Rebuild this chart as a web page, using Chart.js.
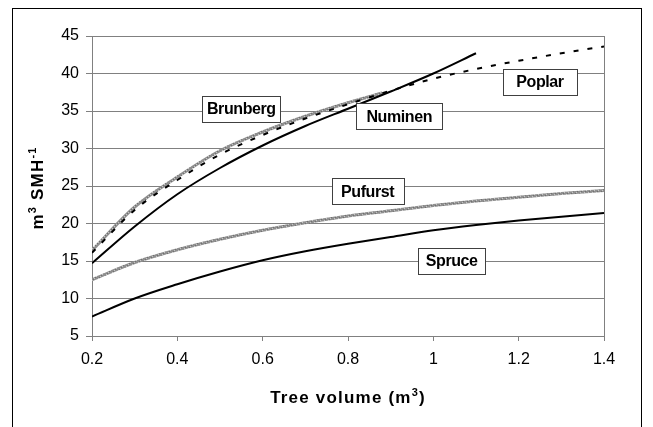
<!DOCTYPE html>
<html>
<head>
<meta charset="utf-8">
<script src="https://cdn.jsdelivr.net/npm/chart.js@4/dist/chart.umd.min.js"></script>
<style>
html,body{margin:0;padding:0;background:#fff;}
#wrap{position:relative;width:653px;height:427px;overflow:hidden;}
</style>
</head>
<body>
<div id="wrap"><canvas id="c" width="653" height="427"></canvas></div>
<script>
// ---- data ----
const xTicks = [0.2, 0.4, 0.6, 0.8, 1, 1.2, 1.4];
const xTickLabels = ['0.2', '0.4', '0.6', '0.8', '1', '1.2', '1.4'];
const yTicks = [5, 10, 15, 20, 25, 30, 35, 40, 45];
const yTickLabels = ['5', '10', '15', '20', '25', '30', '35', '40', '45'];

const volumes = [0.2, 0.3, 0.4, 0.5, 0.6, 0.7, 0.8, 0.9, 1.0, 1.1, 1.2, 1.3, 1.4];
const spruce  = [7.6, 10.0, 11.9, 13.6, 15.1, 16.3, 17.3, 18.2, 19.1, 19.8, 20.4, 20.9, 21.4];
const pufurst = [12.5, 14.8, 16.5, 17.9, 19.1, 20.1, 21.0, 21.7, 22.4, 23.0, 23.5, 24.0, 24.4];
const poplar  = [16.1, 21.8, 25.8, 29.2, 31.8, 34.0, 35.9, 37.7, 39.3, 40.6, 41.7, 42.7, 43.6];

const numinenVolumes = [0.2, 0.3, 0.4, 0.5, 0.6, 0.7, 0.8, 0.9, 1.0, 1.1];
const numinen        = [14.7, 19.6, 23.9, 27.4, 30.4, 33.0, 35.3, 37.6, 40.0, 42.7];

const brunbergVolumes = [0.2, 0.3, 0.4, 0.5, 0.6, 0.7, 0.8, 0.88];
const brunberg        = [16.4, 22.2, 26.2, 29.7, 32.2, 34.3, 36.1, 37.4];

const seriesNames = ['Numinen', 'Spruce', 'Poplar', 'Brunberg', 'Pufurst'];

// text
const xTitleParts = [['Tree volume (m', false], ['3', true], [')', false]];
const yTitleParts = [['m', false], ['3', true], [' SMH', false], ['-1', true]];

// series name boxes (anchored in data units)
const nameBoxes = [
  { text: 'Brunberg', x: 0.55,  y: 35.3, w: 78 },
  { text: 'Numinen',  x: 0.92,  y: 34.3, w: 86 },
  { text: 'Poplar',   x: 1.25,  y: 38.9, w: 74 },
  { text: 'Pufurst',  x: 0.846, y: 24.3, w: 72 },
  { text: 'Spruce',   x: 1.043, y: 15.0, w: 67 }
];

// ---- chart ----
const FONT = "'Liberation Sans', Arial, Helvetica, sans-serif";
Chart.defaults.font.family = FONT;
Chart.defaults.color = '#000';

const canvas = document.getElementById('c');
const ctx0 = canvas.getContext('2d');

function grayPattern() {
  const p = document.createElement('canvas');
  p.width = 4; p.height = 4;
  const g = p.getContext('2d');
  g.fillStyle = '#8f8f8f'; g.fillRect(0, 0, 4, 4);
  g.fillStyle = '#c6c6c6'; g.fillRect(0, 0, 1, 1); g.fillRect(2, 2, 1, 1);
  g.fillStyle = '#707070'; g.fillRect(1, 3, 1, 1); g.fillRect(3, 1, 1, 1);
  return ctx0.createPattern(p, 'repeat');
}
const grayLine = grayPattern();

function pts(xs, ys) { return xs.map((v, i) => ({ x: v, y: ys[i] })); }

function drawParts(c, parts, size, supSize, raise, spacing) {
  let total = 0;
  const widths = parts.map(([t, sup]) => {
    c.font = 'bold ' + (sup ? supSize : size) + 'px ' + FONT;
    c.letterSpacing = spacing + 'px';
    const w = c.measureText(t).width;
    total += w;
    return w;
  });
  let x = -total / 2;
  parts.forEach(([t, sup], i) => {
    c.font = 'bold ' + (sup ? supSize : size) + 'px ' + FONT;
    c.letterSpacing = spacing + 'px';
    c.fillText(t, x, sup ? -raise : 0);
    x += widths[i];
  });
}

const decor = {
  id: 'decor',
  beforeDraw(chart) {
    const c = chart.ctx;
    c.save();
    c.fillStyle = '#fff';
    c.fillRect(0, 0, chart.width, chart.height);
    c.restore();
  },
  afterDatasetsDraw(chart) {
    const c = chart.ctx;
    const xs = chart.scales.x, ys = chart.scales.y;
    c.save();
    c.font = 'bold 16px ' + FONT;
    c.letterSpacing = '-0.4px';
    c.textAlign = 'center';
    c.textBaseline = 'middle';
    nameBoxes.forEach(b => {
      const cx = xs.getPixelForValue(b.x);
      const cy = ys.getPixelForValue(b.y);
      const w = b.w;
      const h = 26;
      const left = Math.round(cx - w / 2) + 0.5;
      const top = Math.round(cy - h / 2) + 0.5;
      c.fillStyle = '#fff';
      c.fillRect(left, top, w, h);
      c.strokeStyle = '#404040';
      c.lineWidth = 1;
      c.strokeRect(left, top, w, h);
      c.fillStyle = '#000';
      c.fillText(b.text, cx, cy + 1);
    });
    c.restore();
  },
  afterDraw(chart) {
    const c = chart.ctx;
    c.save();
    c.strokeStyle = '#000';
    c.lineWidth = 1;
    c.strokeRect(12.5, 8.5, 629, 600);
    c.fillStyle = '#000';
    c.textAlign = 'left';
    c.textBaseline = 'alphabetic';
    c.save();
    c.translate(348, 403);
    drawParts(c, xTitleParts, 17, 11, 7, 1.2);
    c.restore();
    c.save();
    c.translate(43, 188);
    c.rotate(-Math.PI / 2);
    drawParts(c, yTitleParts, 17, 11, 7, 1.2);
    c.restore();
    c.restore();
  }
};

new Chart(canvas, {
  type: 'line',
  data: {
    datasets: [
      { label: seriesNames[0], data: pts(numinenVolumes, numinen), borderColor: '#000', borderWidth: 2 },
      { label: seriesNames[1], data: pts(volumes, spruce), borderColor: '#000', borderWidth: 2 },
      { label: seriesNames[2], data: pts(volumes, poplar), borderColor: '#000', borderWidth: 2, borderDash: [5, 9] },
      { label: seriesNames[3], data: pts(brunbergVolumes, brunberg), borderColor: grayLine, borderWidth: 3 },
      { label: seriesNames[4], data: pts(volumes, pufurst), borderColor: grayLine, borderWidth: 3 }
    ]
  },
  options: {
    responsive: false,
    animation: false,
    events: [],
    layout: { padding: { top: 36, right: 49, left: 0, bottom: 0 } },
    elements: {
      point: { radius: 0 },
      line: { tension: 0.4, cubicInterpolationMode: 'monotone', fill: false, borderCapStyle: 'butt' }
    },
    plugins: { legend: { display: false }, tooltip: { enabled: false }, title: { display: false } },
    scales: {
      x: {
        type: 'linear',
        min: 0.2, max: 1.4,
        afterBuildTicks: s => { s.ticks = xTicks.map(v => ({ value: v })); },
        afterFit: s => { s.height = 91; },
        ticks: {
          callback: (v, i) => xTickLabels[i],
          font: { size: 16 },
          color: '#000',
          padding: 9,
          maxRotation: 0,
          autoSkip: false
        },
        grid: {
          color: c => (c.index === xTicks.length - 1 ? '#808080' : 'rgba(0,0,0,0)'),
          tickColor: '#808080',
          tickLength: 5,
          lineWidth: 1
        },
        border: { display: true, color: '#808080', width: 1 }
      },
      y: {
        type: 'linear',
        min: 5, max: 45,
        afterBuildTicks: s => { s.ticks = yTicks.map(v => ({ value: v })); },
        afterFit: s => { s.width = 92; },
        ticks: {
          callback: (v, i) => yTickLabels[i],
          font: { size: 16 },
          color: '#000',
          padding: 7,
          autoSkip: false
        },
        grid: { color: '#808080', tickColor: '#808080', tickLength: 6, lineWidth: 1 },
        border: { display: true, color: '#808080', width: 1 }
      }
    }
  },
  plugins: [decor]
});
</script>
</body>
</html>
